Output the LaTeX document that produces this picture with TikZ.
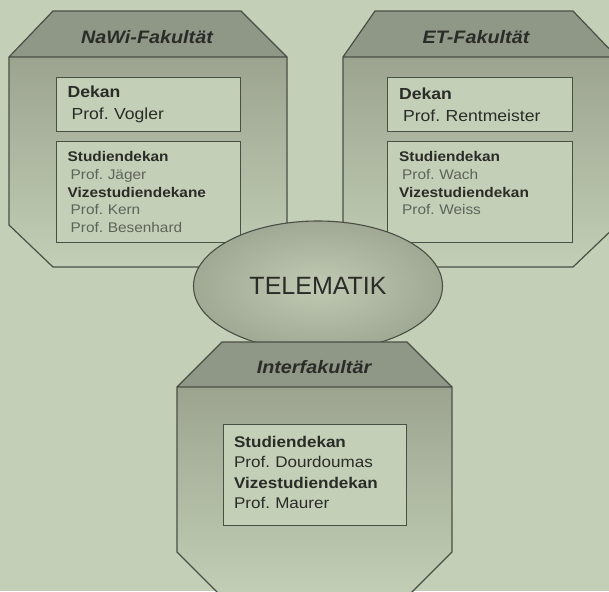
\documentclass[tikz,border=0pt]{standalone}
\usepackage{fontspec}
\setmainfont{Liberation Sans}[FakeStretch=1.1]
\newfontfamily\plainfont{Liberation Sans}
\usepackage{tikz}
\usetikzlibrary{shapes.geometric}
\usepackage{xcolor}
\frenchspacing

\definecolor{bg}{HTML}{C3CFB6}
\definecolor{head}{HTML}{8F9887}
\definecolor{bodytop}{HTML}{9CA490}
\definecolor{bodybot}{HTML}{C2CEB5}
\definecolor{edgegray}{HTML}{4A4F45}
\definecolor{ink}{HTML}{2A2C28}
\definecolor{greyink}{HTML}{5E6359}
\definecolor{eggin}{HTML}{C0C9B2}
\definecolor{eggout}{HTML}{A0A994}

\newcommand{\profname}[1]{{\color{greyink}\hspace*{3pt}#1}}

\tikzset{
  outline/.style={draw=edgegray, line width=1.2pt},
  bodyfill/.style={top color=bodytop, bottom color=bodybot},
  title/.style={font=\bfseries\itshape\fontsize{18}{20}\selectfont, text=ink},
  dekanbox/.style={draw=edgegray, line width=1.2pt, fill=bg, anchor=north west,
    minimum width=184pt, minimum height=54pt, text width=162pt, inner xsep=11pt,
    align=left, text=ink, font=\fontsize{16}{22}\selectfont},
  studbox/.style={dekanbox, minimum height=101pt, font=\fontsize{14}{17.7}\selectfont},
  egg/.style={ellipse, draw=edgegray, line width=1.1pt, inner sep=0pt,
    inner color=eggin, outer color=eggout, minimum width=249pt, minimum height=130pt,
    text=ink, font=\plainfont\fontsize{25}{25}\selectfont}
}

\begin{document}
\begin{tikzpicture}[x=1pt, y=-1pt]
        \fill[bg] (0,0) rectangle (609,591);
        \useasboundingbox (0,0) rectangle (609,591);
        % NaWi
        \shade[bodyfill] (9,57) -- (287,57) -- (287,225) -- (245,267) -- (53,267) -- (9,225) -- cycle;
        \fill[head] (53,11) -- (241,11) -- (287,57) -- (9,57) -- cycle;
        \draw[outline] (53,11) -- (241,11) -- (287,57) -- (287,225) -- (245,267) -- (53,267) -- (9,225) -- (9,57) -- cycle (9,57) -- (287,57);
        \node[title] (nawititle) at (147,37) {NaWi-Fakultät};
        \node[dekanbox] (nawidekan) at (56,77) {\textbf{Dekan}\\ \hspace*{4pt}Prof. Vogler};
        \node[studbox] (nawistud) at (56,141) {\textbf{Studiendekan}\\ \profname{Prof. Jäger}\\ \textbf{Vizestudiendekane}\\ \profname{Prof. Kern}\\ \profname{Prof. Besenhard}};
        % ET
        \shade[bodyfill] (343,57) -- (617,57) -- (617,225) -- (573,267) -- (387,267) -- (343,225) -- cycle;
        \fill[head] (375,11) -- (573,11) -- (617,57) -- (343,57) -- cycle;
        \draw[outline] (375,11) -- (573,11) -- (617,57) -- (617,225) -- (573,267) -- (387,267) -- (343,225) -- (343,57) -- cycle (343,57) -- (617,57);
        \node[title] (ettitle) at (476,37) {ET-Fakultät};
        \node[dekanbox, minimum width=185pt] (etdekan) at (387,77) {\textbf{Dekan}\\ \hspace*{4pt}Prof. Rentmeister};
        \node[studbox, minimum width=185pt] (etstud) at (387,141) {\textbf{Studiendekan}\\ \profname{Prof. Wach}\\ \textbf{Vizestudiendekan}\\ \profname{Prof. Weiss}\\ \mbox{}};
        % Telematik
        \node[egg] (telematik) at (318,286) {TELEMATIK};
        % Interfakultaer
        \shade[bodyfill] (177,387) -- (452,387) -- (452,552) -- (408,596) -- (221,596) -- (177,552) -- cycle;
        \fill[head] (222,342) -- (407,342) -- (452,387) -- (177,387) -- cycle;
        \draw[outline] (222,342) -- (407,342) -- (452,387) -- (452,552) -- (408,596) -- (221,596) -- (177,552) -- (177,387) -- cycle (177,387) -- (452,387);
        \node[title] (intertitle) at (314,367) {Interfakultär};
        \node[studbox, minimum width=183pt, inner xsep=10pt, font=\fontsize{15.5}{20.5}\selectfont] (interstud) at (223,424) {\textbf{Studiendekan}\\ Prof. Dourdoumas\\ \textbf{Vizestudiendekan}\\ Prof. Maurer\vspace{5pt}};
    \end{tikzpicture}
\end{document}
